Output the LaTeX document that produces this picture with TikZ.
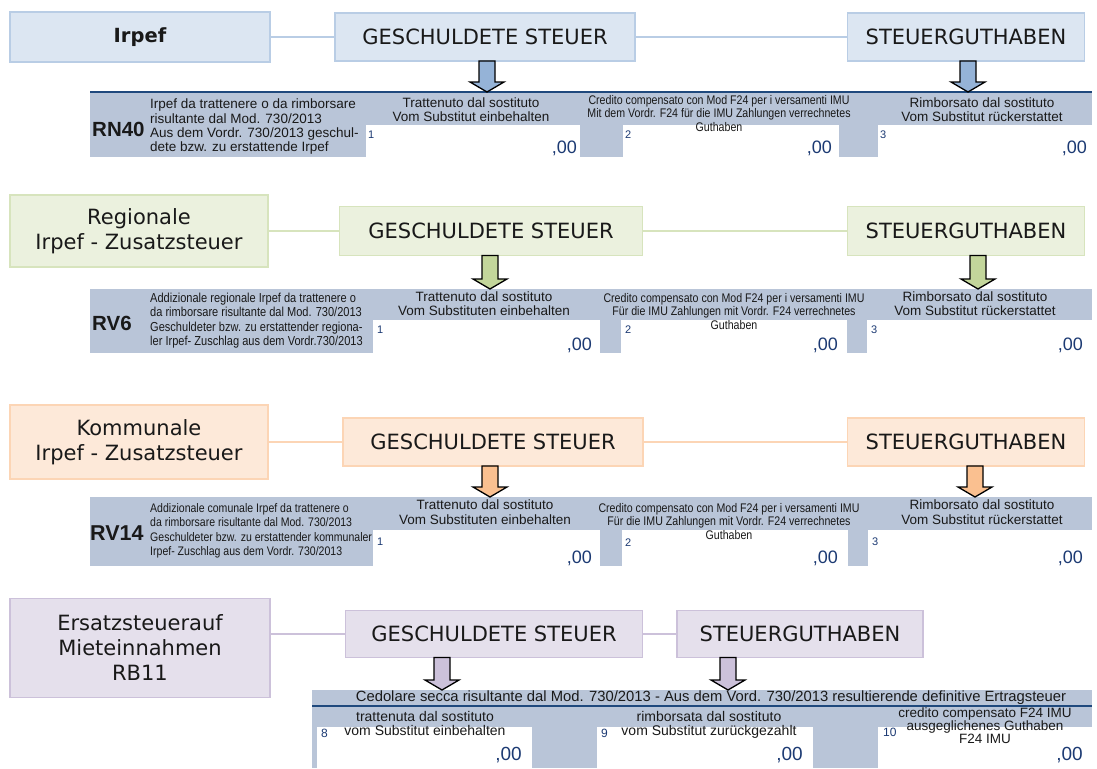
\documentclass[tikz,border=0pt]{standalone}
\usepackage{fontspec}
\setmainfont{Liberation Sans}
\newfontfamily\tfont{DejaVu Sans}
\newfontfamily\nfont[FakeStretch=0.85]{Liberation Sans}
\usetikzlibrary{calc}
\definecolor{bF}{RGB}{220,230,242}
\definecolor{bD}{RGB}{185,205,229}
\definecolor{bA}{RGB}{149,179,215}
\definecolor{gF}{RGB}{235,241,222}
\definecolor{gD}{RGB}{215,228,189}
\definecolor{gA}{RGB}{195,214,155}
\definecolor{oF}{RGB}{253,233,217}
\definecolor{oD}{RGB}{252,213,181}
\definecolor{oA}{RGB}{250,192,144}
\definecolor{pF}{RGB}{229,224,236}
\definecolor{pD}{RGB}{204,193,218}
\definecolor{pA}{RGB}{204,193,218}
\definecolor{bandc}{RGB}{185,197,216}
\definecolor{navy}{RGB}{31,73,125}
\definecolor{numc}{RGB}{28,58,115}
\definecolor{txt}{RGB}{25,25,25}
\newcommand\barrow[4]{%
  \filldraw[fill=#4, draw=black, line width=1.3pt, line join=miter]
   let \p1=(#2.south), \p2=(#3.north) in
   (#1pt-8pt,\y1) -- (#1pt+8pt,\y1) -- (#1pt+8pt,\y2+10pt) -- (#1pt+17pt,\y2+10pt)
   -- (#1pt,\y2) -- (#1pt-17pt,\y2+10pt) -- (#1pt-8pt,\y2+10pt) -- cycle;}
\tikzset{
  tbox/.style={line width=1.5pt, inner sep=0pt, outer sep=0pt, align=center, text=txt,
    font=\tfont\fontsize{21}{25}\selectfont},
  blbox/.style={tbox, fill=bF, draw=bD},
  grbox/.style={tbox, fill=gF, draw=gD},
  orbox/.style={tbox, fill=oF, draw=oD},
  pubox/.style={tbox, fill=pF, draw=pD},
  band/.style={fill=bandc, inner sep=0pt, outer sep=0pt, anchor=north west},
  wbox/.style={fill=white, inner sep=0pt, outer sep=0pt, anchor=north west},
  code/.style={font=\bfseries\fontsize{20.5}{22}\selectfont, text=txt, inner sep=0pt, anchor=west},
  desc/.style={font=\fontsize{13.5}{14.2}\selectfont, text=txt, inner sep=0pt, align=left, anchor=north west},
  ndesc/.style={font=\nfont\fontsize{13}{14.3}\selectfont, text=txt, inner sep=0pt, align=left, anchor=north west},
  head/.style={font=\fontsize{13.5}{13.5}\selectfont, text=txt, inner sep=0pt, align=center, anchor=north},
  nhead/.style={font=\nfont\fontsize{12.5}{13.5}\selectfont, text=txt, inner sep=0pt, align=center, anchor=north},
  num/.style={font=\fontsize{11}{12}\selectfont, text=numc, inner sep=0pt, anchor=west},
  zero/.style={font=\fontsize{18}{20}\selectfont, text=numc, inner sep=0pt, anchor=east},
  conn/.style={line width=1.2pt}
}
\begin{document}
\begin{tikzpicture}[x=1pt,y=-1pt]
\useasboundingbox[fill=white] (0,0) rectangle (1097,768);

% ---------------- Section 1 : Irpef ----------------
\node[blbox, minimum width=260, minimum height=50, font=\tfont\bfseries\fontsize{19.5}{22}\selectfont] (irpef) at (140,37) {Irpef};
\node[blbox, minimum width=300, minimum height=48] (gs1) at (485,37) {GESCHULDETE STEUER};
\node[blbox, minimum width=237, minimum height=48] (sg1) at (966,37) {STEUERGUTHABEN};
\draw[conn, bD] (irpef.east) -- (gs1.west);
\draw[conn, bD] (gs1.east) -- (sg1.west);

\node[band, minimum width=1002, minimum height=65] (b1) at (90,92) {};
\draw[navy, line width=1.5pt] (b1.north west) -- (b1.north east);
\node[wbox, minimum width=214, minimum height=32] (w11) at (366,125) {};
\node[wbox, minimum width=216, minimum height=32] (w12) at (623,125) {};
\node[wbox, minimum width=214, minimum height=32] (w13) at (878,125) {};
\node[code] (rn40) at (92,129) {RN40};
\node[desc] (d1) at (150,99) {Irpef da trattenere o da rimborsare\\risultante dal Mod. 730/2013\\Aus dem Vordr. 730/2013 geschul-\\dete bzw. zu erstattende Irpef};
\node[head] (h11) at (471,98) {Trattenuto dal sostituto\\Vom Substitut einbehalten};
\node[nhead] (h12) at (719,95) {Credito compensato con Mod F24 per i versamenti IMU\\Mit dem Vordr. F24 für die IMU Zahlungen verrechnetes\\Guthaben};
\node[head] (h13) at (982,98) {Rimborsato dal sostituto\\Vom Substitut rückerstattet};
\node[num] (n11) at (368,135) {1};
\node[num] (n12) at (625,135) {2};
\node[num] (n13) at (880,135) {3};
\node[zero] (z11) at (577,148) {,00};
\node[zero] (z12) at (832,148) {,00};
\node[zero] (z13) at (1087,148) {,00};
\barrow{487}{gs1}{b1}{bA}
\barrow{968}{sg1}{b1}{bA}

% ---------------- Section 2 : Regionale ----------------
\node[grbox, minimum width=258, minimum height=72] (reg) at (139,231) {Regionale\\Irpef - Zusatzsteuer};
\node[grbox, minimum width=303, minimum height=49] (gs2) at (491,231) {GESCHULDETE STEUER};
\node[grbox, minimum width=237, minimum height=49] (sg2) at (966,231) {STEUERGUTHABEN};
\draw[conn, gD] (reg.east) -- (gs2.west);
\draw[conn, gD] (gs2.east) -- (sg2.west);

\node[band, minimum width=1002, minimum height=64] (b2) at (90,289) {};
\node[wbox, minimum width=227, minimum height=33] (w21) at (373,320) {};
\node[wbox, minimum width=226, minimum height=33] (w22) at (621,320) {};
\node[wbox, minimum width=225, minimum height=33] (w23) at (867,320) {};
\node[code] (rv6) at (92,323) {RV6};
\node[ndesc] (d2) at (150,293) {Addizionale regionale Irpef da trattenere o\\da rimborsare risultante dal Mod. 730/2013\\Geschuldeter bzw. zu erstattender regiona-\\ler Irpef- Zuschlag aus dem Vordr.730/2013};
\node[head] (h21) at (484,292) {Trattenuto dal sostituto\\Vom Substituten einbehalten};
\node[nhead] (h22) at (734,293) {Credito compensato con Mod F24 per i versamenti IMU\\Für die IMU Zahlungen mit Vordr. F24 verrechnetes\\Guthaben};
\node[head] (h23) at (975,292) {Rimborsato dal sostituto\\Vom Substitut rückerstattet};
\node[num] (n21) at (377,330) {1};
\node[num] (n22) at (625,330) {2};
\node[num] (n23) at (871,330) {3};
\node[zero] (z21) at (592,345) {,00};
\node[zero] (z22) at (838,345) {,00};
\node[zero] (z23) at (1083,345) {,00};
\barrow{490}{gs2}{b2}{gA}
\barrow{978}{sg2}{b2}{gA}

% ---------------- Section 3 : Kommunale ----------------
\node[orbox, minimum width=258, minimum height=74] (kom) at (139,442) {Kommunale\\Irpef - Zusatzsteuer};
\node[orbox, minimum width=300, minimum height=48] (gs3) at (493,442) {GESCHULDETE STEUER};
\node[orbox, minimum width=237, minimum height=48] (sg3) at (966,442) {STEUERGUTHABEN};
\draw[conn, oD] (kom.east) -- (gs3.west);
\draw[conn, oD] (gs3.east) -- (sg3.west);

\node[band, minimum width=1002, minimum height=69] (b3) at (90,497) {};
\node[wbox, minimum width=227, minimum height=36] (w31) at (373,530) {};
\node[wbox, minimum width=226, minimum height=36] (w32) at (622,530) {};
\node[wbox, minimum width=224, minimum height=36] (w33) at (868,530) {};
\node[code, font=\bfseries\fontsize{21.5}{22}\selectfont] (rv14) at (90,533) {RV14};
\node[ndesc, font=\nfont\fontsize{12.4}{14.6}\selectfont] (d3) at (150,503) {Addizionale comunale Irpef da trattenere o\\da rimborsare risultante dal Mod. 730/2013\\Geschuldeter bzw. zu erstattender kommunaler\\Irpef- Zuschlag aus dem Vordr. 730/2013};
\node[head, font=\fontsize{13.5}{14.5}\selectfont] (h31) at (485,500) {Trattenuto dal sostituto\\Vom Substituten einbehalten};
\node[nhead] (h32) at (729,503) {Credito compensato con Mod F24 per i versamenti IMU\\Für die IMU Zahlungen mit Vordr. F24 verrechnetes\\Guthaben};
\node[head, font=\fontsize{13.5}{14.5}\selectfont] (h33) at (982,500) {Rimborsato dal sostituto\\Vom Substitut rückerstattet};
\node[num] (n31) at (377,542) {1};
\node[num] (n32) at (625,543) {2};
\node[num] (n33) at (872,542) {3};
\node[zero] (z31) at (592,558) {,00};
\node[zero] (z32) at (838,558) {,00};
\node[zero] (z33) at (1083,558) {,00};
\barrow{490}{gs3}{b3}{oA}
\barrow{975}{sg3}{b3}{oA}

% ---------------- Section 4 : Ersatzsteuer ----------------
\node[pubox, minimum width=260, minimum height=99] (ers) at (140,648) {Ersatzsteuerauf\\Mieteinnahmen\\RB11};
\node[pubox, minimum width=297, minimum height=47] (gs4) at (494,634) {GESCHULDETE STEUER};
\node[pubox, minimum width=246, minimum height=47] (sg4) at (800,634) {STEUERGUTHABEN};
\draw[conn, pD] (ers.east |- gs4.west) -- (gs4.west);
\draw[conn, pD] (gs4.east) -- (sg4.west);

\node[band, minimum width=780, minimum height=78] (b4) at (312,690) {};
\draw[navy, line width=1.5pt] (312,706) -- (1092,706);
\node[wbox, minimum width=215, minimum height=41] (w41) at (317,727) {};
\node[wbox, minimum width=216, minimum height=41] (w42) at (597,727) {};
\node[wbox, minimum width=214, minimum height=41] (w43) at (878,727) {};
\node[font=\fontsize{14.8}{15}\selectfont, text=txt, inner sep=0pt] (h40) at (711,698) {Cedolare secca risultante dal Mod. 730/2013 - Aus dem Vord. 730/2013 resultierende definitive Ertragsteuer};
\node[head, font=\fontsize{14}{14}\selectfont] (h41) at (425,711) {trattenuta dal sostituto\\vom Substitut einbehalten};
\node[head, font=\fontsize{14}{14}\selectfont] (h42) at (709,711) {rimborsata dal sostituto\\vom Substitut zurückgezahlt};
\node[head, font=\fontsize{13.5}{13}\selectfont] (h43) at (985,708) {credito compensato F24 IMU\\ausgeglichenes Guthaben\\F24 IMU};
\node[num, font=\fontsize{12}{13}\selectfont] (n41) at (321,733) {8};
\node[num, font=\fontsize{12}{13}\selectfont] (n42) at (601,733) {9};
\node[num, font=\fontsize{12}{13}\selectfont] (n43) at (883,732) {10};
\node[zero, font=\fontsize{19}{20}\selectfont] (z41) at (522,755) {,00};
\node[zero, font=\fontsize{19}{20}\selectfont] (z42) at (803,755) {,00};
\node[zero, font=\fontsize{19}{20}\selectfont] (z43) at (1083,755) {,00};
\barrow{442}{gs4}{b4}{pA}
\barrow{728}{sg4}{b4}{pA}
\end{tikzpicture}
\end{document}
